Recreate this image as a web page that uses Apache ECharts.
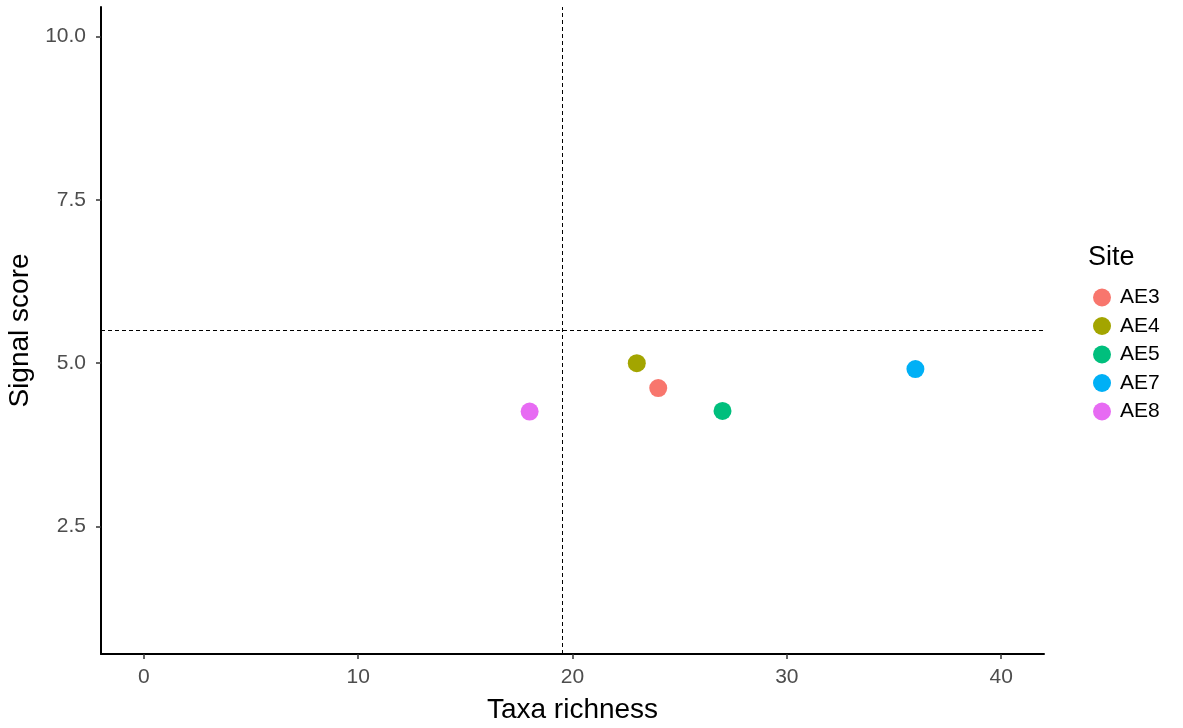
<!DOCTYPE html>
<html>
<head>
<meta charset="utf-8">
<script src="https://cdn.jsdelivr.net/npm/echarts@6/dist/echarts.min.js"></script>
<style>
  html, body { margin: 0; padding: 0; background: #fff; }
  #chart { width: 1183px; height: 728px; }
</style>
</head>
<body>
<div id="chart"></div>
<script>
// data
var sites = ['AE3', 'AE4', 'AE5', 'AE7', 'AE8'];
var taxaRichness = [24, 23, 27, 36, 18];
var signalScore = [4.62, 5.0, 4.27, 4.91, 4.26];
var siteColors = ['#F8766D', '#A3A500', '#00BF7D', '#00B0F6', '#E76BF3'];
var xTicks = [0, 10, 20, 30, 40];
var yTicks = [2.5, 5.0, 7.5, 10.0];
var refRichness = 19.5;
var refSignal = 5.5;

var font = 'Liberation Sans, Arial, sans-serif';
var myChart = echarts.init(document.getElementById('chart'), null, { renderer: 'canvas' });

var series = [], i;
for (i = 0; i < sites.length; i++) {
    series.push({
        name: sites[i],
        type: 'scatter',
        symbol: 'circle',
        symbolSize: 18,
        itemStyle: { color: siteColors[i], opacity: 1 },
        data: [[taxaRichness[i], signalScore[i]]]
    });
}
// reference lines
series[0].markLine = {
    silent: true,
    symbol: ['none', 'none'],
    label: { show: false },
    lineStyle: { color: '#000', type: [4, 3], width: 1 },
    data: [{ xAxis: refRichness }, { yAxis: refSignal }]
};

var option = {
    backgroundColor: '#fff',
    animation: false,
    title: {
        text: 'Site',
        left: 1083,
        top: 239,
        textStyle: { fontFamily: font, fontSize: 27, fontWeight: 'normal', color: '#000' }
    },
    legend: {
        orient: 'vertical',
        left: 1088,
        top: 282,
        icon: 'circle',
        itemWidth: 18,
        itemHeight: 18,
        itemGap: 7.5,
        data: sites,
        textStyle: { fontFamily: font, fontSize: 21, color: '#000', padding: [0, 0, 0, 4] }
    },
    grid: { left: 101, right: 139, top: 7, bottom: 74, containLabel: false, outerBoundsMode: 'none' },
    xAxis: {
        type: 'value',
        min: -2,
        max: 42,
        name: 'Taxa richness',
        nameLocation: 'middle',
        nameGap: 42,
        nameTextStyle: { fontFamily: font, fontSize: 28, color: '#000' },
        splitLine: { show: false },
        axisLine: { onZero: false, lineStyle: { color: '#000', width: 2 } },
        axisTick: { customValues: xTicks, length: 5, lineStyle: { color: '#333', width: 1.5 } },
        axisLabel: { customValues: xTicks, fontFamily: font, fontSize: 21, color: '#4D4D4D', margin: 13 }
    },
    yAxis: {
        type: 'value',
        min: 0.55,
        max: 10.45,
        name: 'Signal score',
        nameLocation: 'middle',
        nameGap: 61,
        nameRotate: 90,
        nameTextStyle: { fontFamily: font, fontSize: 28, color: '#000' },
        splitLine: { show: false },
        axisLine: { onZero: false, lineStyle: { color: '#000', width: 2 } },
        axisTick: { customValues: yTicks, length: 5, lineStyle: { color: '#333', width: 1.5 } },
        axisLabel: {
            customValues: yTicks,
            fontFamily: font, fontSize: 21, color: '#4D4D4D', margin: 15,
            formatter: function (v) { return v.toFixed(1); }
        }
    },
    series: series
};

myChart.setOption(option);
</script>
</body>
</html>
